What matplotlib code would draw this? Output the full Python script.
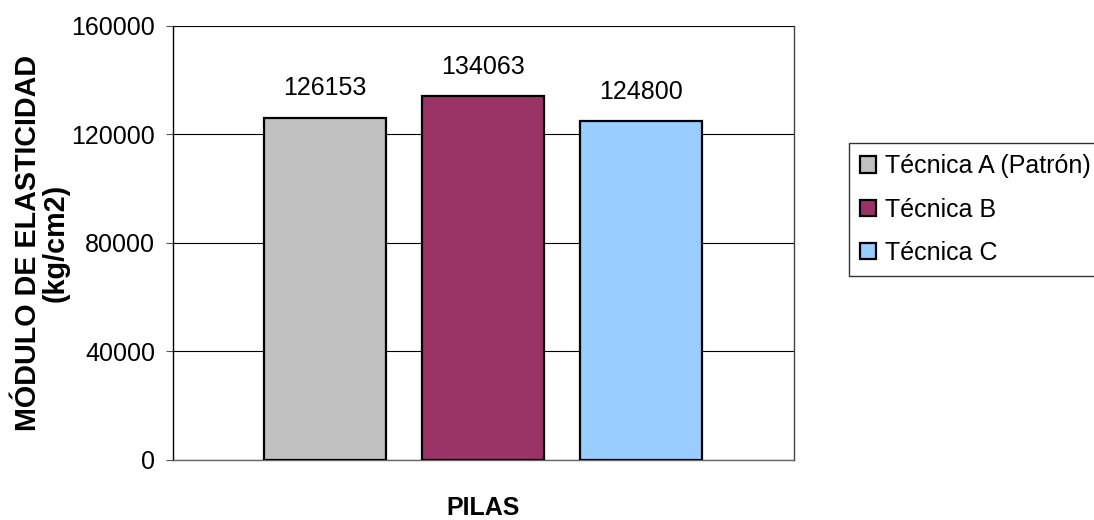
import matplotlib.pyplot as plt

# datos de módulo de elasticidad por técnica
tecnicas = ["Técnica A (Patrón)", "Técnica B", "Técnica C"]
modulo = [126153, 134063, 124800]
colores = ["#c0c0c0", "#993366", "#99ccff"]
yticks = [0, 40000, 80000, 120000, 160000]

plt.rcParams['font.family'] = ['Liberation Sans', 'DejaVu Sans']

fig = plt.figure(figsize=(10.94, 5.2), dpi=100)
ax = fig.add_axes([0.1581, 0.1154, 0.5677, 0.8346])

x = range(len(modulo))
bars = ax.bar(x, modulo, width=0.772, color=colores, edgecolor='black',
              linewidth=1.6, label=tecnicas, zorder=3)

# etiqueta con el valor encima de cada barra
for bar, v in zip(bars, modulo):
    ax.text(bar.get_x() + bar.get_width() / 2, v + 8300, str(v),
            ha='center', va='baseline', fontsize=18)

ax.set_xlim(-0.962, 2.968)
ax.set_ylim(0, 160000)
ax.set_yticks(yticks)
ax.set_yticklabels([str(t) for t in yticks], fontsize=18)
ax.set_xticks([])
ax.grid(axis='y', color='black', linewidth=0.8, zorder=0)
ax.tick_params(axis='y', direction='out', length=5, width=0.8, color='#555555', pad=8)

ax.spines['left'].set_color('black')
ax.spines['right'].set_color('#444444')
ax.spines['bottom'].set_color('#666666')
ax.spines['top'].set_visible(False)
for s in ax.spines.values():
    s.set_linewidth(1.0)

ax.set_ylabel("MÓDULO DE ELASTICIDAD\n(kg/cm2)", fontsize=20.7, fontweight='bold',
              labelpad=1, linespacing=1.0)
ax.set_xlabel("PILAS", fontsize=18, fontweight='bold', labelpad=26)

leg = ax.legend(handles=bars, labels=tecnicas, loc='upper left',
                bbox_to_anchor=(1.0886, 0.730), fontsize=18, frameon=True,
                fancybox=False, edgecolor='black', handlelength=0.64,
                handleheight=0.64, handletextpad=0.36, labelspacing=0.77,
                borderpad=0.45, borderaxespad=0)
leg.get_frame().set_linewidth(1.0)

fig.savefig('out.png', dpi=100)
